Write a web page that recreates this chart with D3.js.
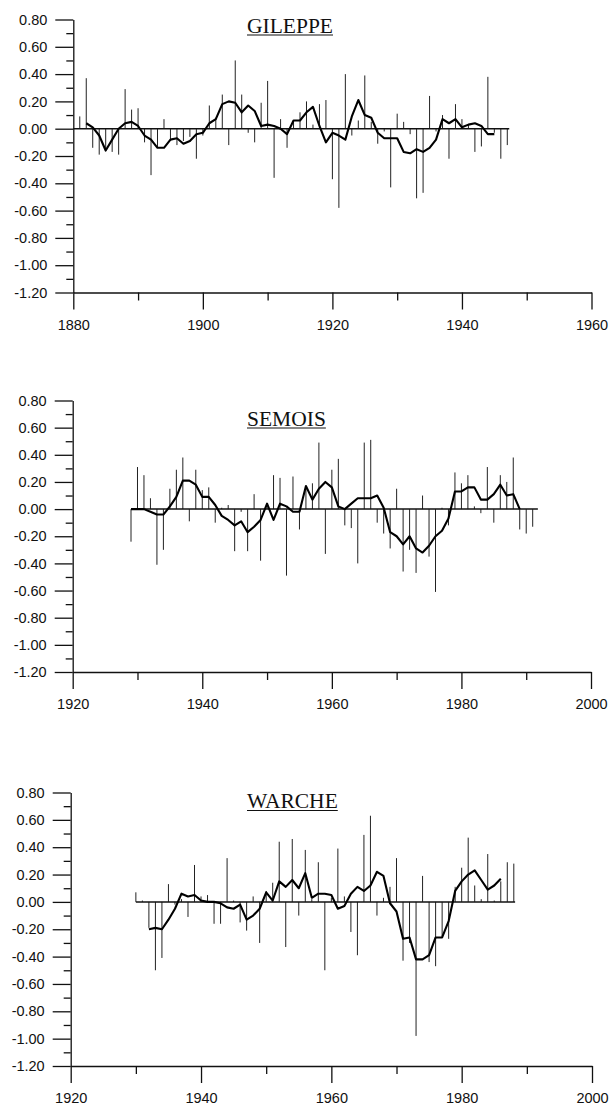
<!DOCTYPE html>
<html><head><meta charset="utf-8">
<script src="https://cdn.jsdelivr.net/npm/d3@7"></script>
<style>html,body{margin:0;padding:0;background:#fff}</style>
</head><body><svg id="c" width="609" height="1109"></svg>
<script>
// ---------- axis ticks ----------
const yTicks = [0.8, 0.6, 0.4, 0.2, 0, -0.2, -0.4, -0.6, -0.8, -1.0, -1.2];
const yMinorTicks = [0.7, 0.5, 0.3, 0.1, -0.1, -0.3, -0.5, -0.7, -0.9, -1.1];
const gileppeXTicks = [1880, 1900, 1920, 1940, 1960];
const gileppeXMinor = [1890, 1910, 1930, 1950];
const laterXTicks = [1920, 1940, 1960, 1980, 2000];
const laterXMinor = [1930, 1950, 1970, 1990];
const titles = ["GILEPPE", "SEMOIS", "WARCHE"];

// ---------- GILEPPE ----------
const gileppeYears = [1881,1882,1883,1884,1885,1886,1887,1888,1889,1890,1891,1892,1893,1894,1895,1896,1897,1898,1899,1900,
  1901,1902,1903,1904,1905,1906,1907,1908,1909,1910,1911,1912,1913,1914,1915,1916,1917,1918,1919,1920,
  1921,1922,1923,1924,1925,1926,1927,1928,1929,1930,1931,1932,1933,1934,1935,1936,1937,1938,1939,1940,
  1941,1942,1943,1944,1945,1946,1947];
const gileppeBars = [0.09,0.37,-0.14,-0.19,-0.15,-0.17,-0.19,0.29,0.14,0.15,-0.10,-0.34,-0.14,0.07,-0.09,-0.12,-0.09,-0.06,-0.22,-0.05,
  0.17,0.08,0.25,-0.12,0.50,0.25,-0.03,-0.10,0.19,0.35,-0.36,0.07,-0.14,0.05,0.12,0.20,0.03,0.18,0.21,-0.37,
  -0.58,0.40,-0.05,0.06,0.39,0.05,-0.11,-0.02,-0.43,0.11,0.05,-0.04,-0.51,-0.47,0.24,-0.02,0.10,-0.22,0.18,0.07,
  0.03,-0.17,-0.13,0.38,-0.03,-0.22,-0.12];
const gileppeSmoothYears = [1882,1883,1884,1885,1886,1887,1888,1889,1890,1891,1892,1893,1894,1895,1896,1897,1898,1899,1900,
  1901,1902,1903,1904,1905,1906,1907,1908,1909,1910,1911,1912,1913,1914,1915,1916,1917,1918,1919,1920,
  1921,1922,1923,1924,1925,1926,1927,1928,1929,1930,1931,1932,1933,1934,1935,1936,1937,1938,1939,1940,
  1941,1942,1943,1944,1945];
const gileppeSmooth = [0.04,0.01,-0.05,-0.16,-0.08,0.00,0.04,0.05,0.02,-0.05,-0.08,-0.14,-0.14,-0.08,-0.07,-0.11,-0.09,-0.04,-0.03,
  0.04,0.07,0.18,0.20,0.19,0.12,0.17,0.13,0.02,0.03,0.02,0.00,-0.04,0.06,0.06,0.12,0.16,0.02,-0.10,-0.03,
  -0.05,-0.08,0.09,0.21,0.10,0.08,-0.03,-0.07,-0.07,-0.07,-0.17,-0.18,-0.15,-0.17,-0.14,-0.08,0.07,0.04,0.07,0.01,
  0.03,0.04,0.02,-0.04,-0.04];
const gileppeBaseline = [1880, 1947.3];

// ---------- SEMOIS ----------
const semoisYears = [1929,1930,1931,1932,1933,1934,1935,1936,1937,1938,1939,1940,
  1941,1942,1943,1944,1945,1946,1947,1948,1949,1950,1951,1952,1953,1954,1955,1956,1957,1958,1959,1960,
  1961,1962,1963,1964,1965,1966,1967,1968,1969,1970,1971,1972,1973,1974,1975,1976,1977,1978,1979,1980,
  1981,1982,1983,1984,1985,1986,1987,1988,1989,1990,1991];
const semoisBars = [-0.24,0.31,0.25,0.08,-0.41,-0.30,0.15,0.29,0.38,-0.09,0.29,0.14,
  0.16,-0.10,0.01,0.03,-0.31,-0.02,-0.31,0.11,-0.38,0.04,0.25,0.23,-0.49,0.24,-0.15,0.17,0.19,0.49,-0.33,0.29,
  0.37,-0.12,-0.14,-0.40,0.49,0.51,-0.10,-0.18,-0.29,0.15,-0.46,-0.30,-0.47,0.10,-0.35,-0.61,0.01,-0.12,0.27,0.19,
  0.25,0.02,-0.03,0.31,-0.10,0.25,0.20,0.38,-0.15,-0.18,-0.13];
const semoisSmoothYears = [1929,1930,1931,1932,1933,1934,1935,1936,1937,1938,1939,1940,
  1941,1942,1943,1944,1945,1946,1947,1948,1949,1950,1951,1952,1953,1954,1955,1956,1957,1958,1959,1960,
  1961,1962,1963,1964,1965,1966,1967,1968,1969,1970,1971,1972,1973,1974,1975,1976,1977,1978,1979,1980,
  1981,1982,1983,1984,1985,1986,1987,1988,1989];
const semoisSmooth = [0.00,0.00,0.00,-0.02,-0.04,-0.04,0.02,0.09,0.21,0.21,0.18,0.09,
  0.09,0.03,-0.05,-0.08,-0.12,-0.09,-0.17,-0.13,-0.08,0.04,-0.08,0.04,0.02,-0.02,-0.02,0.17,0.07,0.15,0.20,0.16,
  0.02,0.00,0.04,0.08,0.08,0.08,0.10,0.01,-0.17,-0.20,-0.26,-0.20,-0.29,-0.32,-0.27,-0.20,-0.16,-0.07,0.13,0.13,
  0.16,0.16,0.07,0.07,0.11,0.18,0.10,0.11,0.00];
const semoisBaseline = [1929, 1991.8];

// ---------- WARCHE ----------
const warcheYears = [1930,1931,1932,1933,1934,1935,1936,1937,1938,1939,1940,
  1941,1942,1943,1944,1945,1946,1947,1948,1949,1950,1951,1952,1953,1954,1955,1956,1957,1958,1959,1960,
  1961,1962,1963,1964,1965,1966,1967,1968,1969,1970,1971,1972,1973,1974,1975,1976,1977,1978,1979,1980,
  1981,1982,1983,1984,1985,1986,1987,1988];
const warcheBars = [0.07,0.01,-0.19,-0.50,-0.41,0.13,-0.02,0.02,-0.11,0.27,0.04,
  0.05,-0.16,-0.16,0.32,0.01,-0.15,-0.21,0.04,-0.30,0.08,0.14,0.44,-0.33,0.46,-0.10,0.38,0.02,0.29,-0.50,0.03,
  0.39,0.04,-0.22,-0.39,0.49,0.63,-0.10,0.03,0.11,0.32,-0.43,-0.30,-0.98,0.19,-0.44,-0.47,-0.25,-0.27,0.11,0.25,
  0.47,0.12,0.02,0.35,0.01,0.15,0.29,0.28];
const warcheSmoothYears = [1932,1933,1934,1935,1936,1937,1938,1939,1940,
  1941,1942,1943,1944,1945,1946,1947,1948,1949,1950,1951,1952,1953,1954,1955,1956,1957,1958,1959,1960,
  1961,1962,1963,1964,1965,1966,1967,1968,1969,1970,1971,1972,1973,1974,1975,1976,1977,1978,1979,1980,
  1981,1982,1983,1984,1985,1986];
const warcheSmooth = [-0.20,-0.19,-0.20,-0.13,-0.05,0.06,0.04,0.05,0.01,
  0.00,0.00,-0.01,-0.04,-0.05,-0.02,-0.13,-0.10,-0.05,0.07,0.01,0.15,0.11,0.16,0.10,0.21,0.03,0.06,0.06,0.05,
  -0.05,-0.03,0.06,0.11,0.08,0.12,0.22,0.19,-0.01,-0.07,-0.27,-0.26,-0.42,-0.42,-0.39,-0.26,-0.26,-0.14,0.08,0.15,
  0.20,0.23,0.16,0.09,0.12,0.17];
const warcheBaseline = [1930, 1988.2];

// ---------- layout ----------
const panels = [
  {title: titles[0], xDomain: [1880, 1960], xRange: [73.3, 591.5], yRange: [292.5, 19.5], titleX: 247, titleY: 32.5,
   xTicks: gileppeXTicks, xMinor: gileppeXMinor, years: gileppeYears, bars: gileppeBars,
   sYears: gileppeSmoothYears, smooth: gileppeSmooth, base: gileppeBaseline},
  {title: titles[1], xDomain: [1920, 2000], xRange: [72.7, 591], yRange: [672, 400.5], titleX: 247, titleY: 425.5,
   xTicks: laterXTicks, xMinor: laterXMinor, years: semoisYears, bars: semoisBars,
   sYears: semoisSmoothYears, smooth: semoisSmooth, base: semoisBaseline},
  {title: titles[2], xDomain: [1920, 2000], xRange: [70.7, 592], yRange: [1066, 792.5], titleX: 247, titleY: 808,
   xTicks: laterXTicks, xMinor: laterXMinor, years: warcheYears, bars: warcheBars,
   sYears: warcheSmoothYears, smooth: warcheSmooth, base: warcheBaseline}
];

const svg = d3.select("#c");
svg.append("rect").attr("width", 609).attr("height", 1109).attr("fill", "#fff");
const yFmt = v => d3.format(".2f")(v).replace("\u2212", "-");
const sansFont = "'Liberation Sans', Arial, Helvetica, sans-serif";
const serifFont = "'Liberation Serif', 'Times New Roman', serif";

panels.forEach(p => {
  const x = d3.scaleLinear().domain(p.xDomain).range(p.xRange);
  const y = d3.scaleLinear().domain([-1.2, 0.8]).range(p.yRange);
  const g = svg.append("g");

  // y axis
  g.append("g").attr("transform", `translate(${p.xRange[0]},0)`)
    .call(d3.axisLeft(y).tickValues(yMinorTicks).tickSize(7).tickSizeOuter(0).tickFormat(""))
    .call(a => a.select(".domain").remove());
  g.append("g").attr("transform", `translate(${p.xRange[0]},0)`)
    .call(d3.axisLeft(y).tickValues(yTicks).tickSize(18).tickSizeOuter(0).tickPadding(8).tickFormat(yFmt));

  // x axis
  g.append("g").attr("transform", `translate(0,${p.yRange[0]})`)
    .call(d3.axisBottom(x).tickValues(p.xMinor).tickSize(8).tickSizeOuter(0).tickFormat(""))
    .call(a => a.select(".domain").remove());
  const xa = g.append("g").attr("transform", `translate(0,${p.yRange[0]})`)
    .call(d3.axisBottom(x).tickValues(p.xTicks).tickSize(17).tickSizeOuter(0).tickFormat(d3.format("d")));
  xa.selectAll("text").attr("y", 37).attr("dy", null);

  g.selectAll(".domain, .tick line").attr("stroke", "#111").attr("stroke-width", 1.3);
  g.selectAll(".tick text").attr("font-family", sansFont).attr("font-size", 14.5).attr("fill", "#111");

  // yearly bars
  const barData = p.years.map((yr, i) => ({yr, v: p.bars[i]}));
  g.append("g").selectAll("line").data(barData).join("line")
    .attr("x1", d => x(d.yr)).attr("x2", d => x(d.yr))
    .attr("y1", y(0)).attr("y2", d => y(d.v))
    .attr("stroke", "#222").attr("stroke-width", 1);

  // zero baseline
  g.append("line")
    .attr("x1", x(p.base[0])).attr("x2", x(p.base[1]))
    .attr("y1", y(0)).attr("y2", y(0))
    .attr("stroke", "#111").attr("stroke-width", 1.5);

  // smoothed curve
  const sData = p.sYears.map((yr, i) => ({yr, v: p.smooth[i]}));
  g.append("path").datum(sData)
    .attr("d", d3.line().x(d => x(d.yr)).y(d => y(d.v)))
    .attr("fill", "none").attr("stroke", "#000").attr("stroke-width", 2.1)
    .attr("stroke-linejoin", "round");

  // title with underline
  const t = g.append("text").attr("x", p.titleX).attr("y", p.titleY)
    .attr("font-family", serifFont).attr("font-size", 21.5).attr("fill", "#111")
    .text(p.title);
  const w = t.node().getComputedTextLength();
  g.append("line").attr("x1", p.titleX).attr("x2", p.titleX + w)
    .attr("y1", p.titleY + 2.5).attr("y2", p.titleY + 2.5)
    .attr("stroke", "#111").attr("stroke-width", 1.2);
});
</script></body></html>
